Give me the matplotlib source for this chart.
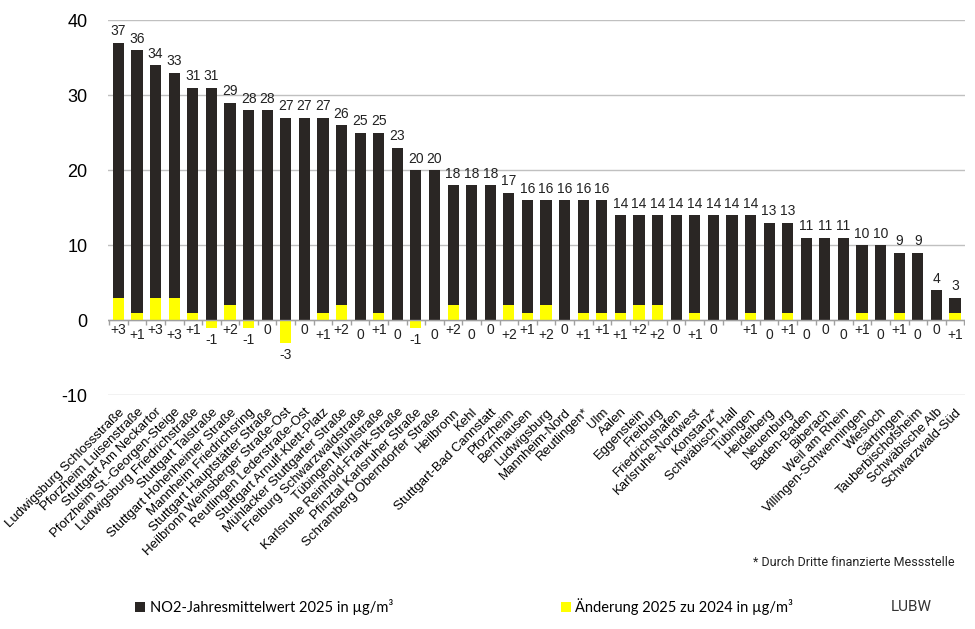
import numpy as np
import matplotlib
matplotlib.use("Agg")
import matplotlib.pyplot as plt
from matplotlib.patches import Patch

# Messstellen (sortiert nach Jahresmittelwert)
stationen = [
    "Ludwigsburg Schlossstraße", "Pforzheim Luisenstraße", "Stuttgart Am Neckartor",
    "Pforzheim St.-Georgen-Steige", "Ludwigsburg Friedrichstraße", "Stuttgart Talstraße",
    "Stuttgart Hohenheimer Straße", "Mannheim Friedrichsring", "Stuttgart Hauptstätter Straße",
    "Heilbronn Weinsberger Straße-Ost", "Reutlingen Lederstraße-Ost", "Stuttgart Arnulf-Klett-Platz",
    "Mühlacker Stuttgarter Straße", "Freiburg Schwarzwaldstraße", "Tübingen Mühlstraße",
    "Karlsruhe Reinhold-Frank-Straße", "Pfinztal Karlsruher Straße", "Schramberg Oberndorfer Straße",
    "Heilbronn", "Kehl", "Stuttgart-Bad Cannstatt", "Pforzheim", "Bernhausen", "Ludwigsburg",
    "Mannheim-Nord", "Reutlingen*", "Ulm", "Aalen", "Eggenstein", "Freiburg", "Friedrichshafen",
    "Karlsruhe-Nordwest", "Konstanz*", "Schwäbisch Hall", "Tübingen", "Heidelberg", "Neuenburg",
    "Baden-Baden", "Biberach", "Weil am Rhein", "Villingen-Schwenningen", "Wiesloch",
    "Gärtringen", "Tauberbischofsheim", "Schwäbische Alb", "Schwarzwald-Süd",
]
# NO2-Jahresmittelwert 2025 in µg/m³
mittel_2025 = [37, 36, 34, 33, 31, 31, 29, 28, 28, 27, 27, 27, 26, 25, 25, 23, 20, 20,
               18, 18, 18, 17, 16, 16, 16, 16, 16, 14, 14, 14, 14, 14, 14, 14, 14, 13, 13,
               11, 11, 11, 10, 10, 9, 9, 4, 3]
# Änderung 2025 zu 2024 (None = kein Wert)
aenderung = [3, 1, 3, 3, 1, -1, 2, -1, 0, -3, 0, 1, 2, 0, 1, 0, -1, 0,
             2, 0, 0, 2, 1, 2, 0, 1, 1, 1, 2, 2, 0, 1, 0, None, 1, 0, 1,
             0, 0, 0, 1, 0, 1, 0, 0, 1]

schwarz = "#2a2624"
gelb = "#ffff00"
grid_col = "#c0c0c0"

plt.rcParams['font.family'] = ['Liberation Sans', 'DejaVu Sans']
plt.rcParams['axes.unicode_minus'] = False

fig = plt.figure(figsize=(9.75, 6.29), dpi=100)
ax = fig.add_axes([0.111, 0.372, 0.879, 0.596])

x = np.arange(len(stationen))
aend = np.array([np.nan if a is None else a for a in aenderung], dtype=float)

ax.bar(x, mittel_2025, width=0.6, color=schwarz, zorder=2)
ax.bar(x, np.nan_to_num(aend), width=0.6, color=gelb, zorder=3)

ax.set_ylim(-10, 40)
ax.set_xlim(-0.55, len(stationen) - 0.45)
ax.set_yticks([-10, 0, 10, 20, 30, 40])
ax.tick_params(axis='y', length=0, labelsize=13, pad=15)
ax.yaxis.grid(True, color=grid_col, linewidth=1)
ax.set_axisbelow(True)
for s in ax.spines.values():
    s.set_visible(False)

# Kategorienachse bei 0 mit Trennstrichen
ax.axhline(0, color="#a0a0a0", linewidth=1, zorder=4)
grenzen = np.arange(len(stationen) + 1) - 0.5
ax.vlines(grenzen, -0.6, 0, color="#a0a0a0", linewidth=1, zorder=4)

ax.set_xticks(x)
ax.set_xticklabels(stationen, rotation=45, ha='right', rotation_mode='anchor', fontsize=9.5)
ax.tick_params(axis='x', length=0, pad=8)

# Werte über den Balken
for xi, v in zip(x, mittel_2025):
    ax.annotate(str(v), (xi, v), xytext=(0, 3), textcoords='offset points',
                ha='center', va='bottom', fontsize=10, color="#222222")

# Änderungen unter der Achse
for i, (xi, a) in enumerate(zip(x, aenderung)):
    if a is None:
        continue
    txt = "+%d" % a if a > 0 else str(a)
    if a < 0:
        ax.annotate(txt, (xi, a), xytext=(0, -4), textcoords='offset points',
                    ha='center', va='top', fontsize=10, color="#222222")
    else:
        off = -2 if i % 2 == 0 else -6
        ax.annotate(txt, (xi, 0), xytext=(0, off), textcoords='offset points',
                    ha='center', va='top', fontsize=10, color="#222222")

fig.text(0.979, 0.105, "* Durch Dritte finanzierte Messstelle", ha='right', va='center',
         fontsize=9, family=['Roboto', 'DejaVu Sans'], color="#222222")

handles = [Patch(facecolor=schwarz, edgecolor='none'), Patch(facecolor=gelb, edgecolor='none')]
fig.legend(handles, ["NO2-Jahresmittelwert 2025 in µg/m³", "Änderung 2025 zu 2024 in µg/m³"],
           loc='center left', bbox_to_anchor=(0.125, 0.035), ncol=2, frameon=False,
           handlelength=0.7, handleheight=0.7, handletextpad=0.3, columnspacing=11.5,
           prop={'family': ['Lato', 'DejaVu Sans'], 'size': 10.5})

fig.text(0.935, 0.035, "LUBW", ha='center', va='center', fontsize=11,
         family=['Roboto', 'DejaVu Sans'], color="#333333")

fig.savefig("out.png", dpi=100)
